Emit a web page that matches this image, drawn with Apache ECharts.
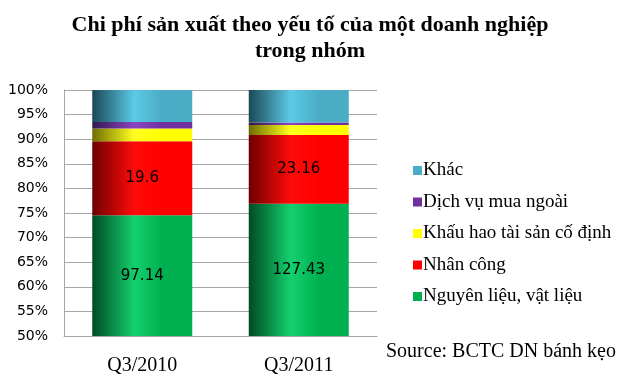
<!DOCTYPE html>
<html><head><meta charset="utf-8">
<script src="https://cdn.jsdelivr.net/npm/echarts@6/dist/echarts.min.js"></script>
<style>html,body{margin:0;padding:0;background:#fff}#c{width:623px;height:384px}</style>
</head><body><div id="c"></div>
<script>
const categories = ['Q3/2010', 'Q3/2011'];
const nguyenLieu = [97.14, 127.43];
const nhanCong = [19.6, 23.16];
const khauHao = [3.4, 3.4];
const dichVu = [1.7, 0.85];
const khac = [8.5, 10.95];
const yTicks = [50, 55, 60, 65, 70, 75, 80, 85, 90, 95, 100];

const totals = categories.map((_, i) => nguyenLieu[i] + nhanCong[i] + khauHao[i] + dichVu[i] + khac[i]);
const pct = arr => arr.map((v, i) => v / totals[i] * 100);

function grad(dark, light, base) {
  return new echarts.graphic.LinearGradient(0, 0, 1, 0, [
    {offset: 0, color: dark}, {offset: 0.42, color: light}, {offset: 0.7, color: base}, {offset: 1, color: base}
  ]);
}
const defs = [
  {name: 'Nguyên liệu, vật liệu', raw: nguyenLieu, c: '#00b050', g: grad('#004a24', '#14d06e', '#00b050'), label: true},
  {name: 'Nhân công', raw: nhanCong, c: '#ff0000', g: grad('#6e0000', '#ff0a0a', '#ff0000'), label: true},
  {name: 'Khấu hao tài sản cố định', raw: khauHao, c: '#ffff00', g: grad('#6e6e00', '#ffff20', '#ffff00'), label: false},
  {name: 'Dịch vụ mua ngoài', raw: dichVu, c: '#7030a0', g: grad('#35164d', '#8a45c0', '#7030a0'), label: false},
  {name: 'Khác', raw: khac, c: '#4bacc6', g: grad('#1a4856', '#5ccae6', '#4bacc6'), label: false}
];

const chart = echarts.init(document.getElementById('c'), null, {renderer: 'canvas'});
chart.setOption({
  animation: false,
  backgroundColor: '#fff',
  title: {
    text: 'Chi phí sản xuất theo yếu tố của một doanh nghiệp\ntrong nhóm',
    left: 305, top: 7, textAlign: 'center',
    textStyle: {fontFamily: 'Liberation Serif', fontWeight: 'bold', fontSize: 22, lineHeight: 26, color: '#000'}
  },
  graphic: [{
    type: 'text', left: 386, top: 342,
    style: {text: 'Source: BCTC DN bánh kẹo', font: '20px "Liberation Serif"', fill: '#000'}
  }],
  legend: {
    orient: 'vertical', left: 408, top: 156, itemGap: 12.5,
    itemWidth: 9, itemHeight: 9, icon: 'rect',
    data: defs.slice().reverse().map(d => ({name: d.name, itemStyle: {color: d.c}})),
    textStyle: {fontFamily: 'Liberation Serif', fontSize: 19, color: '#000', padding: [0, 0, 0, -4]}
  },
  grid: {left: 64, right: 246, top: 90, bottom: 48},
  xAxis: {
    type: 'category', data: categories,
    axisLine: {lineStyle: {color: '#a6a6a6', width: 1}},
    axisTick: {show: false},
    axisLabel: {fontFamily: 'Liberation Serif', fontSize: 20, color: '#000', margin: 20}
  },
  yAxis: {
    type: 'value', min: 50, max: 100, interval: 5,
    axisLine: {show: true, lineStyle: {color: '#a6a6a6'}},
    axisTick: {show: false},
    splitLine: {lineStyle: {color: '#a6a6a6'}},
    axisLabel: {fontFamily: 'DejaVu Sans', fontSize: 14, color: '#000', margin: 16,
      formatter: v => yTicks.indexOf(v) >= 0 ? v + '%' : ''}
  },
  series: defs.map(d => ({
    name: d.name, type: 'bar', stack: 'all', barWidth: 100,
    data: pct(d.raw),
    itemStyle: {color: d.g},
    label: {show: d.label, position: 'inside', fontFamily: 'DejaVu Sans', fontSize: 15, color: '#000',
      formatter: p => String(d.raw[p.dataIndex])}
  }))
});
</script></body></html>
